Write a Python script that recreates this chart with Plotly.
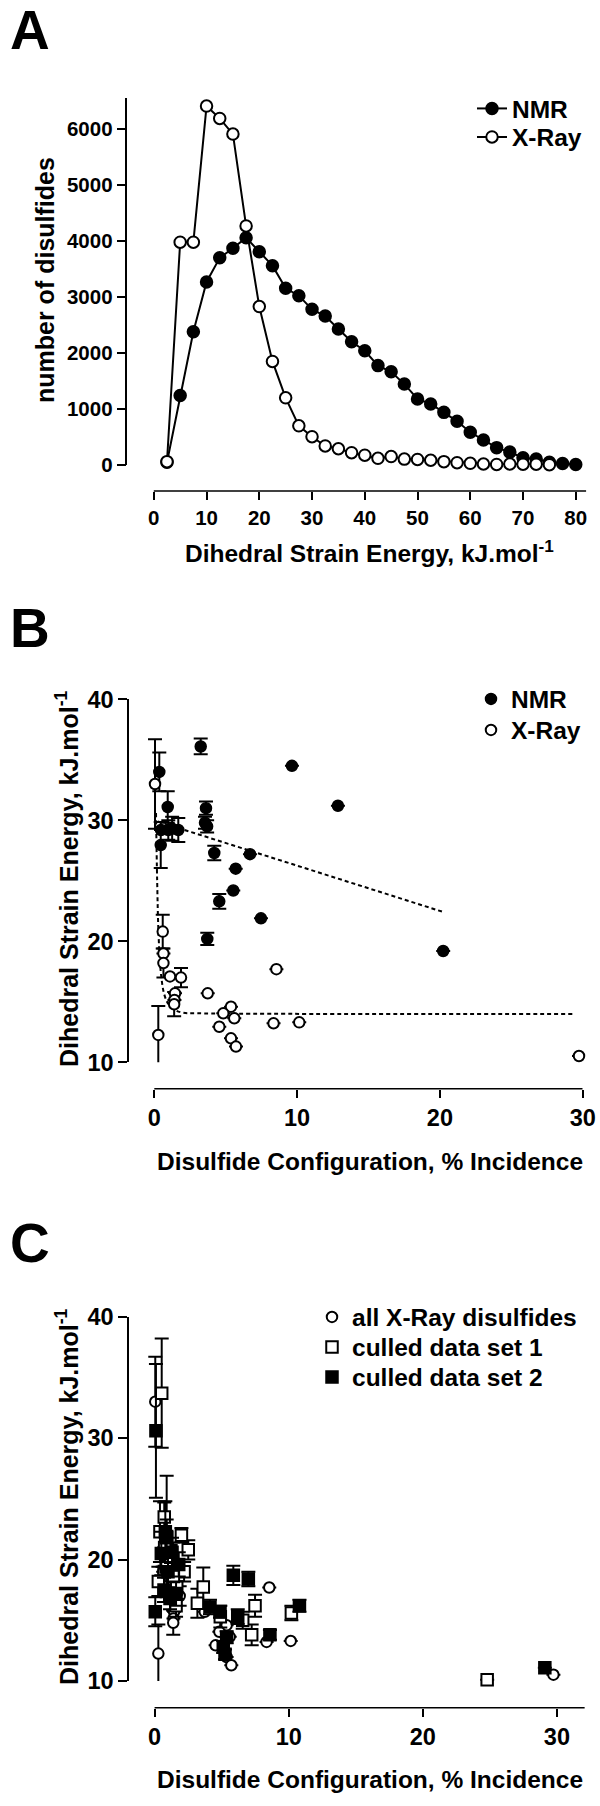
import plotly.graph_objects as go

W, H = 600, 1806
FONT = "Liberation Sans, Arial, sans-serif"

# ---------------- Panel A data ----------------
nmr_energy = [2.5, 5, 7.5, 10, 12.5, 15, 17.5, 20, 22.5, 25, 27.5, 30, 32.5, 35, 37.5, 40,
              42.5, 45, 47.5, 50, 52.5, 55, 57.5, 60, 62.5, 65, 67.5, 70, 72.5, 75, 77.5, 80]
nmr_counts = [50, 1240, 2380, 3270, 3700, 3870, 4060, 3810, 3560, 3155, 3024, 2780, 2660, 2430, 2200, 2040,
              1775, 1665, 1445, 1180, 1090, 940, 780, 585, 445, 310, 230, 130, 105, 50, 25, 10]
xray_energy = [2.5, 5, 7.5, 10, 12.5, 15, 17.5, 20, 22.5, 25, 27.5, 30, 32.5, 35, 37.5, 40,
               42.5, 45, 47.5, 50, 52.5, 55, 57.5, 60, 62.5, 65, 67.5, 70, 72.5, 75]
xray_counts = [60, 3980, 3980, 6410, 6190, 5910, 4270, 2830, 1850, 1200, 700, 505, 340, 290, 220, 175,
               120, 150, 105, 100, 85, 60, 42, 30, 18, 10, 18, 15, 15, 5]
a_xticks = [0, 10, 20, 30, 40, 50, 60, 70, 80]
a_yticks = [0, 1000, 2000, 3000, 4000, 5000, 6000]

# ---------------- Panel B data ----------------
nmr_b_x = [3.25, 0.35, 0.94, 3.62, 3.55, 3.7, 0.47, 0.98, 1.25, 1.68, 0.45, 4.2, 6.7, 5.7, 5.53, 4.55, 7.47, 3.71, 9.64, 12.86, 20.23]
nmr_b_y = [36.1, 34.0, 31.1, 31.0, 29.8, 29.5, 29.2, 29.2, 29.3, 29.2, 27.95, 27.3, 27.2, 26.0, 24.2, 23.3, 21.9, 20.2, 34.5, 31.2, 19.2]
nmr_b_err = [0.65, 1.6, 1.3, 0.55, 0.5, 0.5, 0, 0.8, 1.0, 1.0, 1.9, 0.6, 0, 0, 0, 0.6, 0, 0.5, 0, 0, 0]

xray_b_x = [0.05, 0.59, 0.64, 0.64, 1.1, 1.87, 1.45, 1.41, 1.39, 0.28, 3.74, 5.37, 4.83, 5.6, 4.55, 5.37, 5.72, 8.55, 8.35, 10.15, 29.74]
xray_b_y = [33.0, 20.8, 19.0, 18.2, 17.1, 17.0, 15.7, 15.15, 14.8, 12.26, 15.7, 14.6, 14.05, 13.64, 12.94, 11.98, 11.3, 17.7, 13.22, 13.3, 10.52]
xray_b_err = [3.7, 1.4, 0, 1.2, 0, 0.8, 0, 0, 1.0, 2.4, 0, 0, 0, 0, 0, 0, 0, 0, 0, 0, 0]

fit_nmr_x = [0.25, 20.3]
fit_nmr_y = [29.9, 22.4]
fit_xray_x = [0.12, 0.2, 0.3, 0.45, 0.7, 1.0, 1.5, 2.0, 3.0, 29.4]
fit_xray_y = [30.6, 25.0, 20.5, 17.5, 15.6, 14.8, 14.3, 14.1, 14.05, 14.0]

# ---------------- Panel C data ----------------
c1_x = [0.53, 0.72, 0.75, 0.86, 0.9, 2.0, 2.51, 0.28, 1.65, 3.63, 3.19, 1.6, 7.49, 6.57, 7.24, 10.2, 24.8, 1.2, 2.2, 4.9, 0.4, 1.4]
c1_y = [33.7, 23.5, 21.0, 19.4, 21.9, 22.0, 20.8, 18.2, 17.75, 17.75, 16.4, 16.2, 16.2, 15.0, 13.8, 15.6, 10.1, 20.2, 19.0, 15.3, 22.3, 18.6]
c1_err = [4.5, 1.2, 1.5, 1.2, 5.0, 0.6, 0.8, 1.2, 1.0, 1.6, 1.2, 0.9, 0.9, 0.7, 0.85, 0.6, 0, 1.0, 0.8, 0.9, 2.5, 2.8]

c2_x = [0.1, 0.05, 0.7, 1.15, 0.9, 1.3, 1.8, 5.87, 6.99, 10.8, 8.6, 4.13, 4.88, 6.2, 5.37, 5.12, 5.25, 29.1, 1.0, 0.5, 1.6, 0.8]
c2_y = [30.6, 15.7, 17.5, 16.8, 21.8, 20.6, 19.6, 18.7, 18.4, 16.2, 13.8, 16.1, 15.7, 15.3, 13.6, 12.8, 12.2, 11.1, 19.0, 20.5, 17.2, 22.3]
c2_err = [5.5, 1.2, 1.0, 0.9, 1.5, 1.2, 1.0, 0.8, 0.6, 0.5, 0.4, 0.6, 0.5, 0.6, 0.5, 0.5, 0.4, 0, 1.3, 1.8, 1.0, 2.5]

bc_xticks = [0, 10, 20, 30]
bc_yticks = [10, 20, 30, 40]


def fx(p):
    return p / W


def fy(p):
    return 1 - p / H


# layout geometry (pixels)
geo = {
    "A": dict(yax=127.4, x0=153.8, x1=586.3, xmax=82, ytop=97.7, ybot=465.0, ymin=0, ymax=6560, xline=491.0),
    "B": dict(yax=129.0, x0=154.3, x1=582.7, xmax=30, ytop=699.3, ybot=1062.3, ymin=10, ymax=40, xline=1088.7),
    "C": dict(yax=129.0, x0=154.6, x1=584.8, xmax=32.08, ytop=1316.7, ybot=1681.0, ymin=10, ymax=40, xline=1707.7),
}

fig = go.Figure()

# ---- Panel A traces ----
fig.add_trace(go.Scatter(
    x=nmr_energy, y=nmr_counts, mode="lines+markers", name="NMR",
    line=dict(color="black", width=2),
    marker=dict(symbol="circle", size=11.5, color="black", line=dict(color="black", width=2)),
    xaxis="x", yaxis="y", legend="legend", cliponaxis=False))
fig.add_trace(go.Scatter(
    x=xray_energy, y=xray_counts, mode="lines+markers", name="X-Ray",
    line=dict(color="black", width=2),
    marker=dict(symbol="circle", size=11.5, color="white", line=dict(color="black", width=2)),
    xaxis="x", yaxis="y", legend="legend4", cliponaxis=False))

# ---- Panel B traces ----
fig.add_trace(go.Scatter(
    x=fit_nmr_x, y=fit_nmr_y, mode="lines", showlegend=False,
    line=dict(color="black", width=2, dash="4px,3px"), xaxis="x2", yaxis="y2"))
fig.add_trace(go.Scatter(
    x=fit_xray_x, y=fit_xray_y, mode="lines", showlegend=False, line_shape="spline",
    line=dict(color="black", width=2, dash="4px,3px"), xaxis="x2", yaxis="y2"))
fig.add_trace(go.Scatter(
    x=nmr_b_x, y=nmr_b_y, mode="markers", name="NMR",
    error_y=dict(type="data", array=nmr_b_err, color="black", thickness=2, width=7),
    marker=dict(symbol="circle", size=11, color="black", line=dict(color="black", width=1.5)),
    xaxis="x2", yaxis="y2", legend="legend2", cliponaxis=False))
fig.add_trace(go.Scatter(
    x=xray_b_x, y=xray_b_y, mode="markers", name="X-Ray",
    error_y=dict(type="data", array=xray_b_err, color="black", thickness=2, width=7),
    marker=dict(symbol="circle", size=10.5, color="white", line=dict(color="black", width=2)),
    xaxis="x2", yaxis="y2", legend="legend5", cliponaxis=False))

# ---- Panel C traces ----
fig.add_trace(go.Scatter(
    x=xray_b_x, y=xray_b_y, mode="markers", name="all X-Ray disulfides",
    error_y=dict(type="data", array=xray_b_err, color="black", thickness=2, width=7),
    marker=dict(symbol="circle", size=10.5, color="white", line=dict(color="black", width=2)),
    xaxis="x3", yaxis="y3", legend="legend3", cliponaxis=False))
fig.add_trace(go.Scatter(
    x=c1_x, y=c1_y, mode="markers", name="culled data set 1",
    error_y=dict(type="data", array=c1_err, color="black", thickness=2, width=7),
    marker=dict(symbol="square", size=11.5, color="white", line=dict(color="black", width=2)),
    xaxis="x3", yaxis="y3", legend="legend6", cliponaxis=False))
fig.add_trace(go.Scatter(
    x=c2_x, y=c2_y, mode="markers", name="culled data set 2",
    error_y=dict(type="data", array=c2_err, color="black", thickness=2, width=7),
    marker=dict(symbol="square", size=11.5, color="black", line=dict(color="black", width=2)),
    xaxis="x3", yaxis="y3", legend="legend7", cliponaxis=False))


def axes_for(g, xticks, yticks, fs, yname):
    ppu = (g["x1"] - g["x0"]) / g["xmax"]
    xstart = -(g["x0"] - g["yax"]) / ppu
    tf = dict(family=FONT, size=fs, color="black", weight="bold")
    xa = dict(domain=[fx(g["yax"]), fx(g["x1"])], range=[xstart, g["xmax"]], anchor="free",
              position=fy(g["xline"]), showline=False, ticks="outside", ticklen=8, tickwidth=1.5,
              tickcolor="black", tickvals=xticks, showgrid=False, zeroline=False, tickfont=tf,
              fixedrange=True, automargin=False)
    ya = dict(domain=[fy(g["ybot"]), fy(g["ytop"])], range=[g["ymin"], g["ymax"]], anchor=yname,
              showline=True, linecolor="black", linewidth=1.5, ticks="outside", ticklen=9,
              tickwidth=1.5, tickcolor="black", tickvals=yticks, showgrid=False, zeroline=False,
              tickfont=tf, fixedrange=True, automargin=False)
    return xa, ya


xa1, ya1 = axes_for(geo["A"], a_xticks, a_yticks, 20.5, "x")
xa2, ya2 = axes_for(geo["B"], bc_xticks, bc_yticks, 23.5, "x2")
xa3, ya3 = axes_for(geo["C"], bc_xticks, bc_yticks, 23.5, "x3")

shapes = []
for key, xref in [("A", "x"), ("B", "x2"), ("C", "x3")]:
    g = geo[key]
    shapes.append(dict(type="line", xref=xref, yref="paper", x0=0, x1=g["xmax"],
                       y0=fy(g["xline"]), y1=fy(g["xline"]), line=dict(color="black", width=1.5)))

legend_font = dict(family=FONT, size=24.5, color="black", weight="bold")


def leg(marker_x, center_y):
    return dict(x=fx(marker_x - 19), y=fy(center_y), xanchor="left", yanchor="middle",
                font=legend_font, bgcolor="rgba(0,0,0,0)", borderwidth=0)


fig.update_layout(
    width=W, height=H, margin=dict(l=0, r=0, t=0, b=0, autoexpand=False),
    paper_bgcolor="white", plot_bgcolor="white",
    font=dict(family=FONT, color="black"),
    xaxis=xa1, yaxis=ya1, xaxis2=xa2, yaxis2=ya2, xaxis3=xa3, yaxis3=ya3,
    shapes=shapes,
    legend=leg(491, 108.5), legend4=leg(491, 137),
    legend2=leg(490, 699), legend5=leg(490, 730),
    legend3=leg(331, 1317), legend6=leg(331, 1347), legend7=leg(331, 1377),
    showlegend=True,
)

letter_font = dict(family=FONT, size=55, color="black", weight="bold")
title_font = dict(family=FONT, size=24.5, color="black", weight="bold")
ann = []
for letter, cy in [("A", 30), ("B", 628), ("C", 1243)]:
    ann.append(dict(text=letter, x=fx(8), y=fy(cy), xref="paper", yref="paper",
                    xanchor="left", yanchor="middle", showarrow=False, font=letter_font))
ann.append(dict(text="number of disulfides", x=fx(45), y=fy(280), xref="paper", yref="paper",
                xanchor="center", yanchor="middle", textangle=-90, showarrow=False,
                font=dict(family=FONT, size=25, color="black", weight="bold")))
ann.append(dict(text="Dihedral Strain Energy, kJ.mol<sup>-1</sup>", x=fx(369), y=fy(551),
                xref="paper", yref="paper", xanchor="center", yanchor="middle", showarrow=False,
                font=title_font))
for cy in [879, 1497]:
    ann.append(dict(text="Dihedral Strain Energy, kJ.mol<sup>-1</sup>", x=fx(67), y=fy(cy),
                    xref="paper", yref="paper", xanchor="center", yanchor="middle", textangle=-90,
                    showarrow=False, font=dict(family=FONT, size=25, color="black", weight="bold")))
for cy in [1161, 1779]:
    ann.append(dict(text="Disulfide Configuration, % Incidence", x=fx(370), y=fy(cy),
                    xref="paper", yref="paper", xanchor="center", yanchor="middle", showarrow=False,
                    font=title_font))
fig.update_layout(annotations=ann)

fig.write_html("out.html", config={"displayModeBar": False},
               post_script="document.body.style.margin='0px';")
